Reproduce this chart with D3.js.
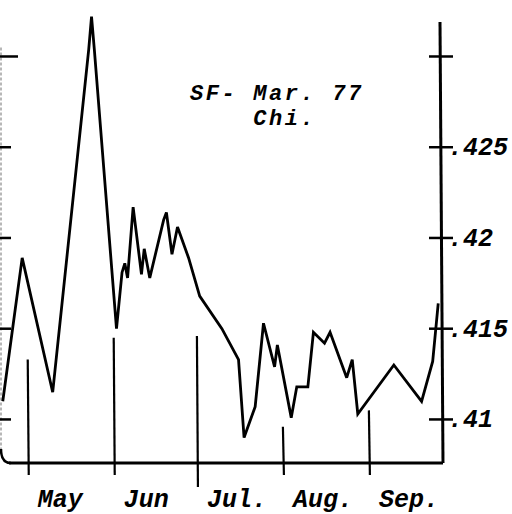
<!DOCTYPE html>
<html>
<head>
<meta charset="utf-8">
<script src="https://cdn.jsdelivr.net/npm/d3@7"></script>
<style>
  html, body { margin: 0; padding: 0; background: #fff; }
  svg text { font-family: "Liberation Mono", "Courier New", monospace; font-style: italic; fill: #000; }
</style>
</head>
<body>
<svg id="chart" width="512" height="514"></svg>
<script>
(() => {
    // price series
    const dates = [
        "1976-04-22", "1976-04-29", "1976-05-10", "1976-05-23", "1976-05-24", "1976-05-25",
        "1976-06-02", "1976-06-04", "1976-06-05", "1976-06-06", "1976-06-08", "1976-06-11",
        "1976-06-12", "1976-06-14", "1976-06-19", "1976-06-20", "1976-06-22", "1976-06-24",
        "1976-06-28", "1976-07-02", "1976-07-10", "1976-07-16", "1976-07-18", "1976-07-22",
        "1976-07-25", "1976-07-29", "1976-07-30", "1976-08-04", "1976-08-06", "1976-08-10",
        "1976-08-12", "1976-08-16", "1976-08-18", "1976-08-24", "1976-08-26", "1976-08-28",
        "1976-09-10", "1976-09-20", "1976-09-24", "1976-09-26"
    ];
    const values = [
        0.4110, 0.4189, 0.4115, 0.4304, 0.4322, 0.4304,
        0.4150, 0.4181, 0.4186, 0.4178, 0.4217, 0.4180,
        0.4194, 0.4178, 0.4210, 0.4214, 0.4191, 0.4206,
        0.4189, 0.4168, 0.4150, 0.4133, 0.4090, 0.4107,
        0.4153, 0.4129, 0.4141, 0.4101, 0.4118, 0.4118,
        0.4148, 0.4142, 0.4148, 0.4123, 0.4133, 0.4103,
        0.4130, 0.4110, 0.4132, 0.4164
    ];

    const months = ["May", "Jun", "Jul.", "Aug.", "Sep."];
    const monthStarts = ["1976-05-01", "1976-06-01", "1976-07-01", "1976-08-01", "1976-09-01"];

    const yTicks = [0.41, 0.415, 0.42, 0.425, 0.43];
    const yTickLabels = [".41", ".415", ".42", ".425", ""];

    const noteLines = ["SF- Mar. 77", "Chi."];

    const parse = d3.timeParse("%Y-%m-%d");
    const data = dates.map((d, i) => ({ date: parse(d), value: values[i] }));

    const svg = d3.select("svg#chart");
    const plot = { left: 1, right: 441, top: 22, bottom: 463 };

    const x = d3.scaleTime()
        .domain([parse("1976-04-21"), parse("1976-09-27")])
        .range([0, plot.right]);

    const y = d3.scaleLinear()
        .domain([0.4076, 0.4319])
        .range([plot.bottom, plot.top]);

    // left axis: faint line, unlabelled ticks, rounded corner at the bottom
    svg.append("path")
        .attr("d", `M${plot.left},${y(0.4305)} L${plot.left},${plot.bottom - 12}`)
        .attr("stroke", "#888")
        .attr("stroke-width", 1.2)
        .attr("stroke-dasharray", "3,2")
        .attr("fill", "none");
    svg.append("path")
        .attr("d", `M${plot.left},${plot.bottom - 14} Q${plot.left},${plot.bottom} ${plot.left + 10},${plot.bottom}`)
        .attr("stroke", "#000")
        .attr("stroke-width", 2.5)
        .attr("fill", "none");

    svg.append("g")
        .selectAll("line")
        .data(yTicks)
        .join("line")
        .attr("x1", 0)
        .attr("x2", (d, i) => i === yTicks.length - 1 ? 18 : 11)
        .attr("y1", d => y(d))
        .attr("y2", d => y(d))
        .attr("stroke", "#000")
        .attr("stroke-width", 2.5);

    // bottom axis
    svg.append("line")
        .attr("x1", plot.left + 8)
        .attr("x2", plot.right + 2)
        .attr("y1", plot.bottom)
        .attr("y2", plot.bottom)
        .attr("stroke", "#000")
        .attr("stroke-width", 3);

    // right axis
    svg.append("line")
        .attr("x1", plot.right - 1)
        .attr("x2", plot.right + 2)
        .attr("y1", plot.top)
        .attr("y2", plot.bottom)
        .attr("stroke", "#000")
        .attr("stroke-width", 3);

    const rightTicks = svg.append("g");
    rightTicks.selectAll("line")
        .data(yTicks)
        .join("line")
        .attr("x1", plot.right - 12)
        .attr("x2", plot.right + 12)
        .attr("y1", d => y(d))
        .attr("y2", d => y(d))
        .attr("stroke", "#000")
        .attr("stroke-width", 2.5);
    rightTicks.selectAll("text")
        .data(yTicks)
        .join("text")
        .attr("x", plot.right + 7)
        .attr("y", d => y(d))
        .attr("dy", "0.32em")
        .attr("font-size", 25)
        .attr("font-weight", "bold")
        .text((d, i) => yTickLabels[i]);

    // month markers (hand drawn, uneven heights)
    const markTop = [0.4133, 0.4145, 0.4146, 0.4096, 0.4105];
    const markDrop = [12, 12, 24, 12, 12];
    svg.append("g")
        .selectAll("line")
        .data(monthStarts)
        .join("line")
        .attr("x1", d => x(parse(d)))
        .attr("x2", d => x(parse(d)) + 1)
        .attr("y1", (d, i) => y(markTop[i]))
        .attr("y2", (d, i) => plot.bottom + markDrop[i])
        .attr("stroke", "#000")
        .attr("stroke-width", 2.2);

    svg.append("g")
        .selectAll("text")
        .data(months)
        .join("text")
        .attr("x", (d, i) => x(parse(monthStarts[i])) + 10)
        .attr("y", 507)
        .attr("font-size", 25)
        .attr("font-weight", "bold")
        .text(d => d);

    // price line
    const line = d3.line()
        .x(d => x(d.date))
        .y(d => y(d.value));

    svg.append("path")
        .datum(data)
        .attr("d", line)
        .attr("fill", "none")
        .attr("stroke", "#000")
        .attr("stroke-width", 2.8)
        .attr("stroke-linejoin", "miter")
        .attr("stroke-miterlimit", 3);

    // note, one text per line
    const noteX = 190;
    svg.append("g")
        .selectAll("text")
        .data(noteLines)
        .join("text")
        .attr("x", (d, i) => noteX + i * 4 * 15.8)
        .attr("y", (d, i) => 100 + i * 25)
        .attr("font-size", 22)
        .attr("letter-spacing", 2.6)
        .attr("font-weight", "bold")
        .text(d => d);
})();
</script>
</body>
</html>
